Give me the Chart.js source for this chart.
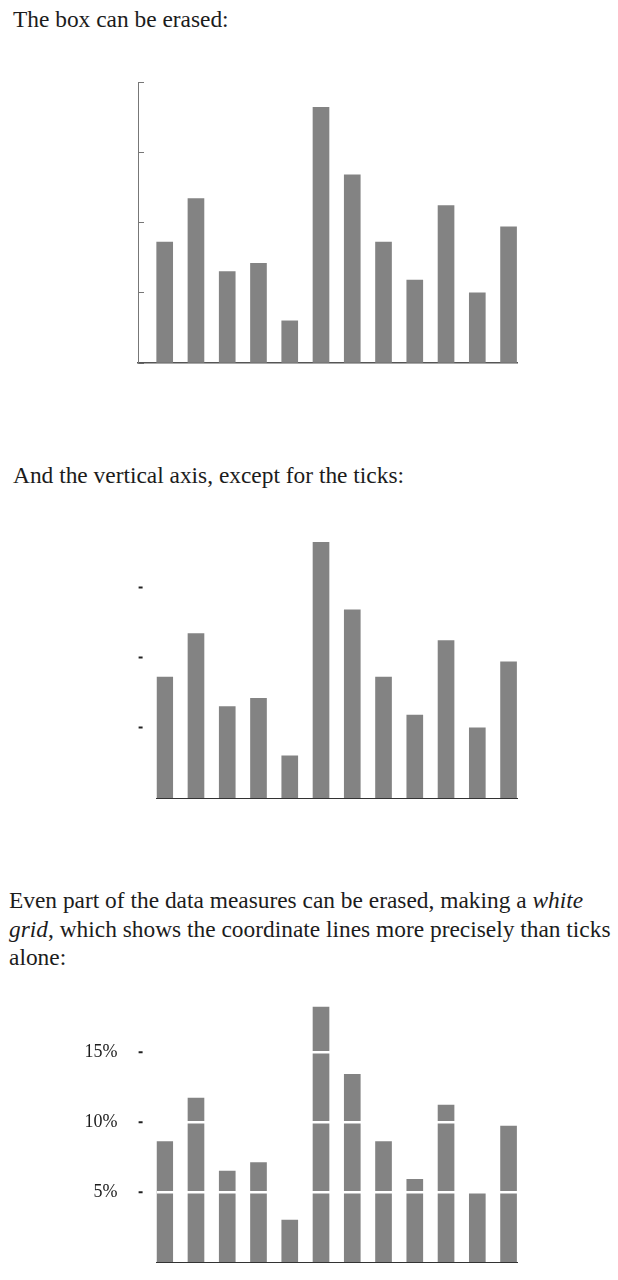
<!DOCTYPE html>
<html>
<head>
<meta charset="utf-8">
<script src="https://cdn.jsdelivr.net/npm/chart.js@4/dist/chart.umd.min.js"></script>
<style>
  html, body { margin: 0; padding: 0; background: #fff; }
  body { width: 618px; height: 1280px; position: relative; overflow: hidden;
         font-family: "Liberation Serif", "DejaVu Serif", serif; color: #1c1c1c; }
  .txt { position: absolute; left: 13px; font-size: 23.4px; line-height: 28.5px; white-space: nowrap; }
  canvas { position: absolute; left: 0; }
</style>
</head>
<body>
<div class="txt" style="top:5px;">The box can be erased:</div>
<div class="txt" style="top:461px;">And the vertical axis, except for the ticks:</div>
<div class="txt" style="top:886px; left:9px;">Even part of the data measures can be erased, making a <i>white</i><br><i>grid</i>, which shows the coordinate lines more precisely than ticks<br>alone:</div>

<canvas id="c1" width="618" height="320" style="top:60px;"></canvas>
<canvas id="c2" width="618" height="320" style="top:500px;"></canvas>
<canvas id="c3" width="618" height="310" style="top:970px;"></canvas>

<script>
// ---- data ----
const categories = ['1','2','3','4','5','6','7','8','9','10','11','12'];
const values = [8.6, 11.7, 6.5, 7.1, 3.0, 18.2, 13.4, 8.6, 5.9, 11.2, 5.0, 9.7];
const boxTickValues = [0, 5, 10, 15, 20];
const tickValues = [5, 10, 15];
const tickLabels = ['5%', '10%', '15%'];
const yMin = 0, yMax = 20;

Chart.defaults.font.family = '"Liberation Serif", "DejaVu Serif", serif';

const points = values.map((v, i) => ({ x: categories.indexOf(categories[i]), y: v }));
const BAR = '#838383';

function makeChart(id, cfg) {
  return new Chart(document.getElementById(id), {
    type: 'bar',
    data: { datasets: [{ data: points, backgroundColor: BAR, barThickness: 16, borderWidth: 0 }] },
    options: {
      responsive: false, animation: false, devicePixelRatio: 1,
      layout: { padding: cfg.padding },
      plugins: { legend: { display: false }, tooltip: { enabled: false } },
      scales: {
        x: {
          type: 'linear', min: cfg.xMin, max: 11.27, offset: false,
          grid: { display: false, offset: false },
          ticks: { display: false },
          border: { display: true, color: cfg.baseColor, width: cfg.baseWidth },
          afterFit: s => { s.height = 0; s.paddingLeft = 0; s.paddingRight = 0; }
        },
        y: cfg.y
      }
    }
  });
}

function fixY(width) {
  return s => { s.width = width; s.paddingTop = 0; s.paddingBottom = 0; };
}

// Chart 1: box erased, axis with inward ticks
makeChart('c1', {
  padding: { top: 22, bottom: 17, left: 0, right: 101 },
  xMin: -0.854, baseColor: '#555', baseWidth: 1.5,
  y: {
    min: yMin, max: yMax,
    afterBuildTicks: s => { s.ticks = boxTickValues.map(v => ({ value: v })); },
    afterFit: fixY(138),
    ticks: { display: false },
    grid: { drawOnChartArea: false, drawTicks: true, tickLength: -6, tickColor: '#777', tickWidth: 1 },
    border: { display: true, color: '#777', width: 1 }
  }
});

// Chart 2: only ticks remain
makeChart('c2', {
  padding: { top: 17, bottom: 22, left: 0, right: 101 },
  xMin: -0.26, baseColor: '#333', baseWidth: 1,
  y: {
    min: yMin, max: yMax,
    afterBuildTicks: s => { s.ticks = tickValues.map(v => ({ value: v })); },
    afterFit: fixY(156.6),
    ticks: { display: false },
    grid: { drawOnChartArea: false, drawTicks: true, tickLength: 18, tickColor: '#222', tickWidth: 2,
            tickBorderDash: [4, 40], tickBorderDashOffset: 0 },
    border: { display: false }
  }
});

// Chart 3: white grid through the bars, labelled ticks
makeChart('c3', {
  padding: { top: 12, bottom: 18, left: 0, right: 101 },
  xMin: -0.26, baseColor: '#333', baseWidth: 1,
  y: {
    min: yMin, max: yMax,
    afterBuildTicks: s => { s.ticks = tickValues.map(v => ({ value: v })); },
    afterFit: fixY(156.6),
    ticks: {
      display: true, padding: 21, color: '#1c1c1c', z: 1,
      font: { size: 18, family: '"Liberation Serif", serif' },
      callback: v => tickLabels[tickValues.indexOf(v)]
    },
    grid: { z: 1, drawOnChartArea: true, color: '#ffffff', lineWidth: 2.5, drawTicks: true, tickLength: 18,
            tickColor: '#222', tickWidth: 2, tickBorderDash: [4, 40], tickBorderDashOffset: 0 },
    border: { display: false }
  }
});
</script>
</body>
</html>
